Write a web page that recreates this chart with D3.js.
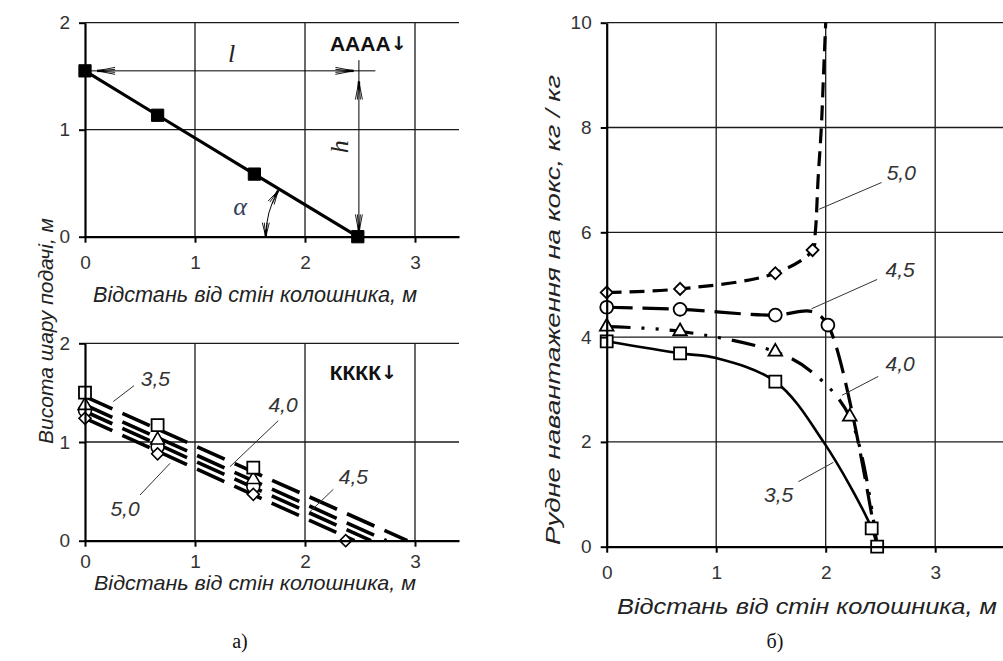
<!DOCTYPE html>
<html>
<head>
<meta charset="utf-8">
<script src="https://cdn.jsdelivr.net/npm/d3@7"></script>
<style>
  body { margin: 0; background: #fff; }
  svg { display: block; }
</style>
</head>
<body>
<svg id="fig" width="1003" height="661"></svg>
<script>
// ---------- Panel a), top: ore layer profile (АААА↓) ----------
const profileX = [0, 0.66, 1.54, 2.48];
const profileH = [1.55, 1.135, 0.585, 0];

// ---------- Panel a), bottom: coke layer profiles (КККК↓) ----------
const cokeX = [0, 0.66, 1.53];
const cokeH35 = [1.50, 1.17, 0.74];
const cokeH40 = [1.37, 1.02, 0.62];
const cokeH45 = [1.32, 0.95, 0.55];
const cokeX50 = [0, 0.66, 1.53, 2.37];
const cokeH50 = [1.24, 0.88, 0.47, 0];
// straight fitted lines: height at the wall, distance where the layer runs out
const cokeFitStart = [1.46, 1.375, 1.31, 1.24];
const cokeFitEnd = [2.93, 2.74, 2.60, 2.45];
const loadNames = ["3,5", "4,0", "4,5", "5,0"];

// ---------- Panel б): ore-to-coke load across the throat ----------
const load35X = [0, 0.67, 1.54, 2.42, 2.47];
const load35 = [3.92, 3.69, 3.15, 0.35, 0];
const load35LineX = [0, 0.67, 1.0, 1.54, 1.98, 2.42, 2.47];
const load35Line = [3.92, 3.69, 3.6, 3.15, 2.0, 0.35, 0];

const load40X = [0, 0.67, 1.54, 2.22];
const load40 = [4.2, 4.11, 3.72, 2.48];
const load40LineX = [0, 0.67, 1.54, 1.87, 2.22, 2.47];
const load40Line = [4.2, 4.11, 3.72, 3.34, 2.48, 0];

const load45X = [0, 0.67, 1.54, 2.02];
const load45 = [4.57, 4.53, 4.42, 4.23];
const load45LineX = [0, 0.67, 1.54, 1.87, 2.02, 2.47];
const load45Line = [4.57, 4.53, 4.42, 4.49, 4.23, 0];

const load50X = [0, 0.67, 1.54, 1.88];
const load50 = [4.85, 4.92, 5.22, 5.66];
const load50LineX = [0, 0.67, 1.54, 1.88, 1.905, 1.93, 1.96, 1.98, 2.0];
const load50Line = [4.85, 4.92, 5.22, 5.66, 6.0, 7.0, 8.0, 9.0, 10.0];

const xTicks = [0, 1, 2, 3];
const xGrid = [1, 2, 3, 4];
const hTicks = [0, 1, 2];
const loadTicks = [0, 2, 4, 6, 8, 10];

const xTitle = "Відстань від стін колошника, м";
const hTitle = "Висота шару подачі, м";
const loadTitle = "Рудне навантаження на кокс, кг / кг";

const SANS = "'Liberation Sans', Arial, sans-serif";
const SERIF = "'Liberation Serif', 'Times New Roman', serif";
const svg = d3.select("#fig");

// ---------- scales ----------
const xTop = d3.scaleLinear([0, 3.4], [85, 459]);
const yTop = d3.scaleLinear([0, 2], [236.7, 22.7]);
const xBot = d3.scaleLinear([0, 3.4], [85, 459]);
const yBot = d3.scaleLinear([0, 2], [540.7, 343.3]);
const xR = d3.scaleLinear([0, 4], [606.7, 1044.7]);
const yR = d3.scaleLinear([0, 10], [546.7, 22.7]);

const zip = (xs, ys) => xs.map((x, i) => [x, ys[i]]);

function grid(xs, ys, xt, yt) {
  const g = svg.append("g");
  const [xa, xb] = xs.range(), [ya, yb] = ys.range();
  g.selectAll(".gx").data(xt.filter(d => d > 0 && d <= xs.domain()[1])).join("line")
    .attr("x1", d => xs(d)).attr("x2", d => xs(d)).attr("y1", ya).attr("y2", yb)
    .attr("stroke", "#1a1a1a").attr("stroke-width", 1.3);
  g.selectAll(".gy").data(yt.filter(d => d > 0)).join("line")
    .attr("x1", xa).attr("x2", xb).attr("y1", d => ys(d)).attr("y2", d => ys(d))
    .attr("stroke", "#1a1a1a").attr("stroke-width", 1.3);
}

function axes(xs, ys, xt, yt, xPad) {
  const ax = svg.append("g").attr("transform", `translate(0,${ys.range()[0]})`)
    .call(d3.axisBottom(xs).tickValues(xt).tickSize(6).tickSizeOuter(0).tickPadding(xPad).tickFormat(d3.format("d")));
  const ay = svg.append("g").attr("transform", `translate(${xs.range()[0]},0)`)
    .call(d3.axisLeft(ys).tickValues(yt).tickSize(6).tickSizeOuter(0).tickPadding(9).tickFormat(d3.format("d")));
  [ax, ay].forEach(a => {
    a.select(".domain").attr("stroke", "#000").attr("stroke-width", 2.2);
    a.selectAll(".tick line").attr("stroke", "#000").attr("stroke-width", 2);
    a.selectAll(".tick text").attr("font-family", SANS).attr("font-size", 19).attr("fill", "#333");
  });
}

function clipFor(id, xs, ys) {
  svg.append("clipPath").attr("id", id).append("rect")
    .attr("x", xs.range()[0]).attr("y", ys.range()[1] - 2)
    .attr("width", xs.range()[1] - xs.range()[0]).attr("height", ys.range()[0] - ys.range()[1] + 4);
}

// marker shapes
const symSquare = d3.symbol(d3.symbolSquare, 144);
const symCircle = d3.symbol(d3.symbolCircle, 130);
const symTriangle = d3.symbol(d3.symbolTriangle, 80);
const symDiamond = d3.symbol(d3.symbolSquare, 72);

function markers(pts, xs, ys, sym, rot, fill, sw) {
  svg.append("g").selectAll("path").data(pts).join("path")
    .attr("d", sym())
    .attr("transform", d => `translate(${xs(d[0])},${ys(d[1])}) rotate(${rot})`)
    .attr("fill", fill).attr("stroke", "#000").attr("stroke-width", sw);
}

function leader(xs, ys, a, b) {
  svg.append("line")
    .attr("x1", xs(a[0])).attr("y1", ys(a[1])).attr("x2", xs(b[0])).attr("y2", ys(b[1]))
    .attr("stroke", "#333").attr("stroke-width", 1);
}

function tag(xs, ys, p, text, size, opts = {}) {
  return svg.append("text")
    .attr("x", xs(p[0])).attr("y", ys(p[1]))
    .attr("text-anchor", "middle").attr("dominant-baseline", "central")
    .attr("font-family", opts.family || SANS).attr("font-size", size)
    .attr("font-style", opts.style || "italic").attr("font-weight", opts.weight || "normal")
    .attr("fill", opts.fill || "#333")
    .text(text);
}

// bold layer code with a down arrow (arrow glyph taken from DejaVu Sans)
function layerCode(xs, ys, p, letters) {
  const t = svg.append("text")
    .attr("x", xs(p[0])).attr("y", ys(p[1]))
    .attr("text-anchor", "middle").attr("dominant-baseline", "central")
    .attr("font-family", SANS).attr("font-size", 21).attr("font-weight", "bold").attr("fill", "#111");
  t.append("tspan").text(letters);
  t.append("tspan").attr("font-family", "'DejaVu Sans', sans-serif").attr("font-size", 19).text("↓");
}

// open CAD-style arrowhead: tip at (x,y), pointing along (dx,dy)
function arrowHead(x, y, dx, dy, len = 18) {
  const n = Math.hypot(dx, dy); dx /= n; dy /= n;
  const px = -dy, py = dx;
  const bx = x - dx * len, by = y - dy * len;
  const d = [3.5, 1.5, -1.5, -3.5].map(w =>
    `M${x},${y}L${bx + px * w},${by + py * w}`).join("");
  svg.append("path").attr("d", d).attr("stroke", "#000").attr("stroke-width", 0.9).attr("fill", "none");
  svg.append("line").attr("x1", x).attr("y1", y).attr("x2", x - dx * 7).attr("y2", y - dy * 7)
    .attr("stroke", "#000").attr("stroke-width", 2.5);
}

// =========================== Panel a), top ===========================
grid(xTop, yTop, xGrid, hTicks);
clipFor("clipTop", xTop, yTop);

// dimension lines l and h
const dimLevel = 1.55, dimRight = 2.64, dimX = 2.49, dimTop = 1.65;
svg.append("line").attr("x1", xTop(0)).attr("x2", xTop(dimRight))
  .attr("y1", yTop(dimLevel)).attr("y2", yTop(dimLevel)).attr("stroke", "#000").attr("stroke-width", 1);
svg.append("line").attr("x1", xTop(dimX)).attr("x2", xTop(dimX))
  .attr("y1", yTop(dimTop)).attr("y2", yTop(0)).attr("stroke", "#000").attr("stroke-width", 1);
arrowHead(xTop(0.11), yTop(dimLevel), -1, 0);
arrowHead(xTop(2.44), yTop(dimLevel), 1, 0);
arrowHead(xTop(dimX), yTop(1.45), 0, -1);
arrowHead(xTop(dimX), yTop(0.04), 0, 1);

// ore layer line and points
svg.append("path").datum(zip(profileX, profileH))
  .attr("d", d3.line().x(d => xTop(d[0])).y(d => yTop(d[1])))
  .attr("fill", "none").attr("stroke", "#000").attr("stroke-width", 3.2);
markers(zip(profileX, profileH), xTop, yTop, d3.symbol(d3.symbolSquare, 150), 0, "#000", 1);

// angle α arc at the lower end of the layer
{
  const cx = xTop(profileX[3]), cy = yTop(0), r = 92;
  const a0 = Math.PI, a1 = Math.PI * 150 / 180;
  const p0 = [cx + r * Math.cos(a0), cy - r * Math.sin(a0)];
  const p1 = [cx + r * Math.cos(a1), cy - r * Math.sin(a1)];
  svg.append("path").attr("d", `M${p0[0]},${p0[1]} A${r},${r} 0 0 1 ${p1[0]},${p1[1]}`)
    .attr("fill", "none").attr("stroke", "#000").attr("stroke-width", 1);
  arrowHead(p0[0], p0[1], 0, 1, 14);
  arrowHead(p1[0], p1[1], Math.sin(a1), Math.cos(a1), 14);
}
tag(xTop, yTop, [1.334, 1.714], "l", 26, { family: SERIF, fill: "#222" });
tag(xTop, yTop, [1.41, 0.28], "α", 26, { family: SERIF, fill: "#33415c" });
svg.append("text")
  .attr("transform", `translate(${xTop(2.318)},${yTop(0.84)}) rotate(-90)`)
  .attr("text-anchor", "middle").attr("dominant-baseline", "central")
  .attr("font-family", SERIF).attr("font-style", "italic").attr("font-size", 26).attr("fill", "#222")
  .text("h");
layerCode(xTop, yTop, [2.575, 1.807], "АААА");

axes(xTop, yTop, xTicks, hTicks, 13);

// =========================== Panel a), bottom ===========================
grid(xBot, yBot, xGrid, hTicks);
clipFor("clipBot", xBot, yBot);
const fitLine = d3.line().x(d => xBot(d[0])).y(d => yBot(d[1]));
svg.append("g").attr("clip-path", "url(#clipBot)")
  .selectAll("path").data(cokeFitStart.map((s, i) => [[0, s], [cokeFitEnd[i], 0]])).join("path")
  .attr("d", fitLine).attr("fill", "none").attr("stroke", "#000")
  .attr("stroke-width", 3.6).attr("stroke-dasharray", "30,11");
markers(zip(cokeX, cokeH45), xBot, yBot, symCircle, 0, "#fff", 1.6);
markers(zip(cokeX50, cokeH50), xBot, yBot, symDiamond, 45, "#fff", 1.6);
markers(zip(cokeX, cokeH40), xBot, yBot, symTriangle, 0, "#fff", 1.6);
markers(zip(cokeX, cokeH35), xBot, yBot, symSquare, 0, "#fff", 1.8);

const botTags = [[0.64, 1.645], [1.80, 1.375], [2.44, 0.65], [0.364, 0.328]];
const botLeadA = [[0.445, 1.57], [1.757, 1.216], [2.257, 0.52], [0.5, 0.463]];
const botLeadB = [[0.257, 1.41], [1.318, 0.75], [2.045, 0.294], [0.773, 0.784]];
loadNames.forEach((n, i) => {
  leader(xBot, yBot, botLeadA[i], botLeadB[i]);
  tag(xBot, yBot, botTags[i], n, 21);
});
layerCode(xBot, yBot, [2.53, 1.71], "КККК");

axes(xBot, yBot, xTicks, hTicks, 8);

// left panel titles
svg.append("text").attr("x", 255).attr("y", 302).attr("text-anchor", "middle")
  .attr("font-family", SANS).attr("font-style", "italic").attr("font-size", 22).attr("fill", "#222")
  .attr("textLength", 324).attr("lengthAdjust", "spacingAndGlyphs").text(xTitle);
svg.append("text").attr("x", 255).attr("y", 590).attr("text-anchor", "middle")
  .attr("font-family", SANS).attr("font-style", "italic").attr("font-size", 21).attr("fill", "#222")
  .attr("textLength", 322).attr("lengthAdjust", "spacingAndGlyphs").text(xTitle);
svg.append("text").attr("transform", "translate(45,331) rotate(-90)")
  .attr("text-anchor", "middle").attr("dominant-baseline", "central")
  .attr("font-family", SANS).attr("font-style", "italic").attr("font-size", 21).attr("fill", "#222")
  .attr("textLength", 226).attr("lengthAdjust", "spacingAndGlyphs").text(hTitle);

// =========================== Panel б) ===========================
grid(xR, yR, xGrid, loadTicks);
clipFor("clipR", xR, yR);
const smooth = d3.line().x(d => xR(d[0])).y(d => yR(d[1])).curve(d3.curveCatmullRom.alpha(0.5));
const rLines = svg.append("g").attr("clip-path", "url(#clipR)");
rLines.append("path").datum(zip(load50LineX, load50Line)).attr("d", smooth)
  .attr("fill", "none").attr("stroke", "#000").attr("stroke-width", 3.2).attr("stroke-dasharray", "15,8");
rLines.append("path").datum(zip(load45LineX, load45Line)).attr("d", smooth)
  .attr("fill", "none").attr("stroke", "#000").attr("stroke-width", 3.2).attr("stroke-dasharray", "26,10");
rLines.append("path").datum(zip(load40LineX, load40Line)).attr("d", smooth)
  .attr("fill", "none").attr("stroke", "#000").attr("stroke-width", 3.2).attr("stroke-dasharray", "24,11,3,11,3,11");
rLines.append("path").datum(zip(load35LineX, load35Line)).attr("d", smooth)
  .attr("fill", "none").attr("stroke", "#000").attr("stroke-width", 2.6);

markers(zip(load50X, load50), xR, yR, symDiamond, 45, "#fff", 1.8);
markers(zip(load45X, load45), xR, yR, symCircle, 0, "#fff", 1.8);
markers(zip(load40X, load40), xR, yR, symTriangle, 0, "#fff", 1.8);
markers(zip(load35X, load35), xR, yR, symSquare, 0, "#fff", 1.8);

const rTags = [[1.57, 0.99], [2.68, 3.5], [2.68, 5.29], [2.69, 7.15]];
const rLeadA = [[1.75, 1.24], [2.48, 3.25], [2.47, 5.10], [2.51, 6.95]];
const rLeadB = [[2.07, 1.61], [2.15, 2.89], [1.87, 4.54], [1.94, 6.44]];
loadNames.forEach((n, i) => {
  leader(xR, yR, rLeadA[i], rLeadB[i]);
  tag(xR, yR, rTags[i], n, 21);
});

axes(xR, yR, xTicks, loadTicks, 13);

svg.append("text").attr("x", 807).attr("y", 614).attr("text-anchor", "middle")
  .attr("font-family", SANS).attr("font-style", "italic").attr("font-size", 22).attr("fill", "#222")
  .attr("textLength", 380).attr("lengthAdjust", "spacingAndGlyphs").text(xTitle);
svg.append("text").attr("transform", "translate(552,310) rotate(-90)")
  .attr("text-anchor", "middle").attr("dominant-baseline", "central")
  .attr("font-family", SANS).attr("font-style", "italic").attr("font-size", 21).attr("fill", "#222")
  .attr("textLength", 470).attr("lengthAdjust", "spacingAndGlyphs").text(loadTitle);

// sub-figure captions
svg.append("text").attr("x", 240).attr("y", 648).attr("text-anchor", "middle")
  .attr("font-family", SERIF).attr("font-size", 20).attr("fill", "#111").text("а)");
svg.append("text").attr("x", 775).attr("y", 648).attr("text-anchor", "middle")
  .attr("font-family", SERIF).attr("font-size", 20).attr("fill", "#111").text("б)");
</script>
</body>
</html>
